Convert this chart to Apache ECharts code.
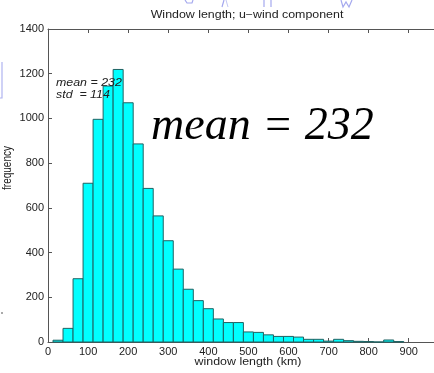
<!DOCTYPE html>
<html>
<head>
<meta charset="utf-8">
<script src="https://cdn.jsdelivr.net/npm/echarts@6/dist/echarts.min.js"></script>
<style>
html,body{margin:0;padding:0;background:#fff;}
#c{width:434px;height:373px;}
</style>
</head>
<body>
<div id="c"></div>
<script>
// ---- data ----
const titleText = 'Window length; u\u2212wind component';
const xName = 'window length (km)';
const yName = 'frequency';
const binCenters = [25,50,75,100,125,150,175,200,225,250,275,300,325,350,375,400,425,450,475,500,525,550,575,600,625,650,675,700,725,750,775,800,825,850,875];
const counts     = [8,61,283,710,996,1145,1219,1070,886,687,564,453,326,236,185,149,103,87,87,45,43,32,25,25,22,12,12,4,12,6,3,2,0,9,2];
const binWidth = 25;
const xTicks = [0,100,200,300,400,500,600,700,800,900];
const yTicks = [0,200,400,600,800,1000,1200,1400];
const xVisibleMax = 963; // axis continues past the cropped right edge
const statLines = ['mean = 232', 'std  = 114'];
const bigNote = 'mean = 232';

const histData = binCenters.map((c, i) => [c - binWidth / 2, c + binWidth / 2, counts[i]]);

const chart = echarts.init(document.getElementById('c'), null, {renderer: 'canvas'});
const axisCol = '#555';
const lblCol = '#222';
const sx = 1.24;
const font = 'Liberation Sans, Arial';

const option = {
  animation: false,
  backgroundColor: '#fff',
  grid: {left: 48, right: 0, top: 29, bottom: 31, containLabel: false},
  xAxis: [{
    type: 'value', min: 0, max: xVisibleMax, interval: 100,
    axisLine: {show: true, lineStyle: {color: axisCol, width: 1}},
    axisTick: {show: true, inside: true, length: 4, lineStyle: {color: axisCol}},
    axisLabel: {color: lblCol, fontSize: 11, fontFamily: font, margin: 4, showMaxLabel: false,
      formatter: v => xTicks.indexOf(v) >= 0 ? String(v) : ''},
    splitLine: {show: false}
  }, {
    type: 'value', position: 'top', min: 0, max: xVisibleMax, interval: 100,
    axisLine: {show: true, lineStyle: {color: axisCol, width: 1}},
    axisTick: {show: true, inside: true, length: 4, lineStyle: {color: axisCol}},
    axisLabel: {show: false}, splitLine: {show: false}
  }],
  yAxis: [{
    type: 'value', min: 0, max: 1400, interval: 200,
    axisLine: {show: true, lineStyle: {color: axisCol, width: 1}},
    axisTick: {show: true, inside: true, length: 4, lineStyle: {color: axisCol}},
    axisLabel: {color: lblCol, fontSize: 11, fontFamily: font, margin: 4,
      formatter: v => yTicks.indexOf(v) >= 0 ? String(v) : ''},
    splitLine: {show: false}
  }],
  series: [{
    type: 'custom',
    xAxisIndex: 0, yAxisIndex: 0,
    data: histData,
    encode: {x: [0, 1], y: 2},
    renderItem: function (params, api) {
      const p0 = api.coord([api.value(0), api.value(2)]);
      const p1 = api.coord([api.value(1), 0]);
      return {
        type: 'rect',
        shape: {x: p0[0], y: p0[1], width: p1[0] - p0[0], height: p1[1] - p0[1]},
        style: {fill: '#00ffff', stroke: '#1f6262', lineWidth: 1}
      };
    }
  }],
  graphic: [
    {type: 'text', x: 247, y: 15, scaleX: sx,
      style: {text: titleText, fill: lblCol, fontSize: 10, fontFamily: font, align: 'center', verticalAlign: 'middle'}},
    {type: 'text', x: 248, y: 362, scaleX: sx,
      style: {text: xName, fill: lblCol, fontSize: 10, fontFamily: font, align: 'center', verticalAlign: 'middle'}},
    {type: 'text', x: 7.5, y: 168, rotation: Math.PI / 2, scaleY: sx,
      style: {text: yName, fill: lblCol, fontSize: 10, fontFamily: font, align: 'center', verticalAlign: 'middle'}},
    {type: 'text', x: 56, y: 83, scaleX: sx, z: 100,
      style: {text: statLines[0], fill: lblCol, fontSize: 10, fontStyle: 'italic', fontFamily: font, align: 'left', verticalAlign: 'middle'}},
    {type: 'text', x: 56, y: 95, scaleX: sx, z: 100,
      style: {text: statLines[1], fill: lblCol, fontSize: 10, fontStyle: 'italic', fontFamily: font, align: 'left', verticalAlign: 'middle'}},
    {type: 'text', x: 151, y: 126.5, z: 100,
      style: {text: bigNote, fill: '#000', fontSize: 46, fontStyle: 'italic', fontFamily: 'Liberation Serif, Times New Roman', align: 'left', verticalAlign: 'middle'}},
    // faint blue fragments from a cropped overlay at the top and left edges
    {type: 'polyline', shape: {points: [[185, 0], [187, 3], [192, 3], [193, 0]]}, style: {stroke: '#a4a8ee', lineWidth: 1.2, fill: null}},
    {type: 'polyline', shape: {points: [[224, 0], [222, 7]]}, style: {stroke: '#a4a8ee', lineWidth: 1.2, fill: null}},
    {type: 'polyline', shape: {points: [[226, 0], [228, 7]]}, style: {stroke: '#c3c6f3', lineWidth: 1, fill: null}},
    {type: 'polyline', shape: {points: [[264, 0], [264, 7]]}, style: {stroke: '#a4a8ee', lineWidth: 1.2, fill: null}},
    {type: 'polyline', shape: {points: [[271, 0], [271, 7]]}, style: {stroke: '#a4a8ee', lineWidth: 1.2, fill: null}},
    {type: 'polyline', shape: {points: [[341, 0], [343, 7], [346, 2], [349, 7], [352, 0]]}, style: {stroke: '#a4a8ee', lineWidth: 1.2, fill: null}},
    {type: 'polyline', shape: {points: [[2, 62], [2, 98], [0, 98]]}, style: {stroke: '#b0b4f0', lineWidth: 1.2, fill: null}},
    {type: 'rect', shape: {x: 1, y: 312, width: 2, height: 2}, style: {fill: '#aaa'}}
  ]
};
chart.setOption(option);
</script>
</body>
</html>
